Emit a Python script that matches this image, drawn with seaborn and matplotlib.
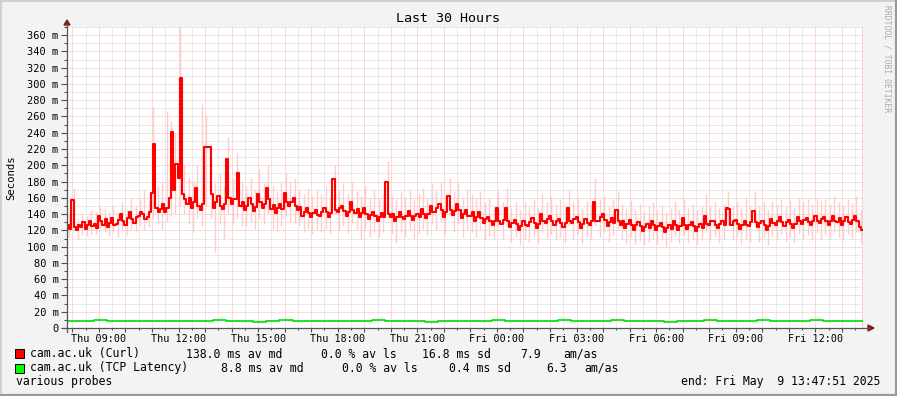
import numpy as np
import pandas as pd
import seaborn as sns
import matplotlib
matplotlib.use('Agg')
import matplotlib.pyplot as plt
from matplotlib.lines import Line2D
from matplotlib.patches import Polygon, Rectangle

# Curl median (ms), one value per 5 minutes, starting Thu 07:47:51
curl_median = [126, 122, 157, 124, 121, 127, 124, 130, 122, 127,
               131, 125, 128, 123, 138, 131, 127, 134, 124, 129,
               135, 126, 128, 133, 140, 131, 126, 135, 142, 134,
               129, 137, 138, 143, 140, 134, 137, 142, 166, 226,
               148, 143, 146, 152, 143, 148, 160, 241, 170, 201,
               185, 307, 165, 158, 152, 160, 148, 155, 172, 150,
               145, 152, 222, 222, 222, 165, 148, 155, 162, 150,
               146, 152, 208, 160, 152, 158, 158, 190, 150, 155,
               145, 150, 160, 152, 144, 149, 165, 155, 148, 153,
               172, 158, 146, 151, 141, 147, 152, 146, 166, 155,
               150, 155, 160, 150, 145, 149, 138, 143, 147, 141,
               136, 141, 145, 139, 138, 143, 148, 142, 137, 141,
               183, 145, 142, 147, 150, 144, 138, 143, 155, 145,
               141, 146, 136, 141, 147, 140, 134, 139, 143, 138,
               132, 137, 141, 136, 180, 140, 136, 140, 132, 137,
               142, 136, 134, 138, 144, 138, 133, 138, 140, 136,
               146, 140, 135, 140, 150, 142, 142, 147, 153, 145,
               137, 142, 162, 145, 139, 144, 152, 145, 135, 140,
               145, 138, 138, 142, 132, 137, 142, 135, 129, 134,
               136, 131, 126, 131, 147, 132, 128, 133, 148, 132,
               124, 129, 133, 128, 120, 125, 132, 127, 125, 130,
               135, 129, 123, 128, 140, 131, 129, 134, 138, 131,
               127, 132, 134, 129, 124, 129, 148, 132, 129, 134,
               136, 130, 123, 128, 134, 129, 126, 131, 155, 132,
               131, 136, 140, 133, 125, 130, 135, 129, 145, 131,
               126, 131, 123, 128, 133, 127, 121, 126, 130, 125,
               119, 124, 128, 123, 131, 126, 120, 125, 129, 124,
               118, 123, 127, 122, 132, 126, 120, 125, 135, 127,
               122, 127, 130, 125, 119, 124, 128, 123, 138, 128,
               126, 131, 132, 127, 123, 128, 131, 126, 147, 146,
               126, 131, 133, 128, 122, 127, 131, 126, 125, 130,
               144, 130, 124, 129, 132, 127, 120, 125, 134, 129,
               126, 131, 136, 130, 125, 130, 133, 128, 123, 128,
               137, 131, 128, 133, 135, 130, 126, 131, 138, 132,
               129, 134, 136, 131, 127, 132, 138, 132, 130, 135,
               126, 131, 136, 130, 128, 133, 138, 132, 124, 121]

# smoke (spread of the pings), one value per 10 minutes
curl_high = [140, 172, 135, 140, 138, 145, 142, 150, 146, 142,
             150, 140, 155, 145, 160, 150, 158, 170, 156, 272,
             175, 180, 267, 255, 240, 372, 200, 185, 180, 200,
             275, 260, 210, 178, 190, 175, 235, 185, 215, 180,
             175, 185, 170, 195, 178, 200, 175, 168, 180, 192,
             180, 185, 170, 165, 172, 162, 170, 165, 175, 160,
             200, 170, 178, 165, 180, 168, 162, 175, 160, 170,
             158, 165, 205, 162, 158, 168, 160, 170, 158, 165,
             172, 160, 178, 170, 180, 162, 185, 168, 178, 160,
             170, 165, 158, 168, 155, 160, 150, 170, 155, 172,
             148, 155, 145, 155, 150, 158, 148, 165, 155, 162,
             152, 158, 150, 170, 155, 160, 148, 156, 152, 185,
             158, 162, 150, 158, 168, 152, 148, 156, 146, 152,
             144, 150, 155, 145, 150, 142, 148, 156, 146, 158,
             148, 152, 145, 150, 165, 150, 155, 148, 152, 168,
             150, 155, 148, 160, 150, 168, 150, 155, 145, 156,
             152, 158, 150, 156, 148, 160, 155, 158, 152, 160,
             156, 158, 152, 162, 155, 150, 158, 154, 162, 145]

curl_low = [112, 120, 110, 114, 113, 116, 115, 122, 118, 113,
            118, 112, 120, 114, 122, 118, 125, 120, 124, 135,
            128, 122, 130, 138, 140, 150, 140, 128, 118, 135,
            125, 150, 135, 93, 128, 110, 140, 128, 135, 125,
            125, 130, 122, 135, 128, 140, 122, 118, 125, 138,
            130, 128, 125, 118, 122, 115, 120, 118, 122, 116,
            140, 120, 125, 117, 130, 120, 110, 122, 112, 118,
            112, 118, 135, 115, 105, 118, 112, 120, 110, 116,
            122, 114, 128, 120, 130, 115, 138, 118, 128, 112,
            120, 118, 112, 120, 110, 113, 108, 125, 110, 125,
            106, 112, 102, 110, 106, 112, 104, 118, 110, 116,
            108, 112, 106, 126, 110, 115, 105, 112, 108, 125,
            112, 118, 106, 114, 122, 108, 105, 112, 103, 108,
            102, 106, 110, 103, 108, 100, 106, 112, 104, 114,
            105, 110, 102, 108, 118, 108, 112, 105, 110, 126,
            108, 112, 104, 110, 106, 124, 106, 112, 102, 112,
            108, 115, 107, 112, 105, 116, 110, 114, 108, 117,
            110, 115, 109, 118, 112, 108, 115, 110, 118, 104]

# TCP latency median (ms), one value per 30 minutes
tcp_median = [8.8, 8.8, 9.6, 8.8, 8.8, 8.8, 8.9, 8.8, 8.8, 8.7,
              8.8, 9.5, 8.8, 8.8, 7.6, 8.8, 9.4, 8.8, 8.8, 8.8,
              8.8, 8.9, 8.8, 9.6, 8.8, 8.8, 8.8, 7.9, 8.8, 8.8,
              8.8, 8.8, 9.5, 8.8, 8.8, 8.8, 8.8, 9.6, 8.8, 8.8,
              8.8, 9.5, 8.8, 8.8, 8.8, 7.7, 8.8, 8.8, 9.5, 8.8,
              8.8, 8.8, 9.4, 8.8, 8.8, 8.8, 9.6, 8.8, 8.8, 8.8]

x_tick_hours = [9, 12, 15, 18, 21, 24, 27, 30, 33, 36]
x_tick_labels = ['Thu 09:00', 'Thu 12:00', 'Thu 15:00', 'Thu 18:00', 'Thu 21:00',
                 'Fri 00:00', 'Fri 03:00', 'Fri 06:00', 'Fri 09:00', 'Fri 12:00']

legend_curl = ['cam.ac.uk (Curl)', '138.0 ms av md', '0.0 % av ls', '16.8 ms sd', '7.9', 'am/as']
legend_tcp = ['cam.ac.uk (TCP Latency)', '8.8 ms av md', '0.0 % av ls', '0.4 ms sd', '6.3', 'am/as']

W, H = 897, 396
def fx(px):
    return px / W
def fy(py):
    return 1 - py / H

start = 7 + 47 / 60 + 51 / 3600   # hours since Thu 00:00
end = start + 30

mono = 'DejaVu Sans Mono'
plt.rcParams['font.family'] = mono

fig = plt.figure(figsize=(W / 100, H / 100), dpi=100, facecolor='#f3f3f3')
ax = fig.add_axes([fx(67), fy(328), (863 - 67) / W, (328 - 27) / H])
ax.set_facecolor('white')
ax.set_xlim(start, end)
ax.set_ylim(0, 370)

# grid
ax.set_yticks(np.arange(0, 361, 20))
ax.set_yticks(np.arange(10, 371, 20), minor=True)
ax.set_yticklabels(['0' if v == 0 else f'{v} m' for v in range(0, 361, 20)])
hours = np.arange(8, 38)
ax.set_xticks(hours)
ax.set_xticklabels([x_tick_labels[x_tick_hours.index(h)] if h in x_tick_hours else '' for h in hours])
ax.set_xticks(np.arange(8.5, 38, 1.0), minor=True)
ax.grid(which='major', color='#f3b6b6', ls=(0, (1, 1)), lw=0.72)
ax.grid(which='minor', color='#d6d6d6', ls=(0, (1, 1)), lw=0.72)
ax.set_axisbelow(True)
for s in ax.spines.values():
    s.set_visible(False)
ax.tick_params(axis='both', which='major', color='#505050', width=0.8, labelsize=7.5)
ax.tick_params(axis='y', which='major', length=4, pad=2)
ax.tick_params(axis='y', which='minor', length=2, color='#505050', width=0.8)
ax.tick_params(axis='x', which='major', length=3, pad=1.5, labelsize=7.3)
ax.tick_params(axis='x', which='minor', length=1.5, color='#505050', width=0.8)

# smoke
ts = start + np.arange(len(curl_high)) / 6
ax.vlines(ts + 1 / 12, curl_low, curl_high, colors='#ffcccc', lw=1.0, zorder=1.5)
ax.axvline(end - 0.01, color='#ffc4c4', lw=1.2, zorder=1.5)

# medians
t = start + np.arange(len(curl_median)) / 12
curl_df = pd.DataFrame({'t': list(t) + [end], 'ms': curl_median + [curl_median[-1]]})
sns.lineplot(data=curl_df, x='t', y='ms', drawstyle='steps-post', color='#ff0000',
             lw=1.5, estimator=None, legend=False, ax=ax, zorder=3)
tg = start + np.arange(len(tcp_median)) / 2
tcp_df = pd.DataFrame({'t': list(tg) + [end], 'ms': tcp_median + [tcp_median[-1]]})
sns.lineplot(data=tcp_df, x='t', y='ms', drawstyle='steps-post', color='#00dd00',
             lw=1.2, estimator=None, legend=False, ax=ax, zorder=3)
ax.set_xlabel('')
ax.set_ylabel('')

# axes with arrows
fig.add_artist(Line2D([fx(67), fx(67)], [fy(332), fy(24)], color='#555555', lw=0.9))
fig.add_artist(Line2D([fx(63), fx(869)], [fy(328), fy(328)], color='#555555', lw=0.9))
fig.add_artist(Polygon([[fx(64), fy(25)], [fx(70), fy(25)], [fx(67), fy(20)]],
                       closed=True, color='#7f2020', transform=fig.transFigure))
fig.add_artist(Polygon([[fx(868), fy(325)], [fx(868), fy(331)], [fx(874), fy(328)]],
                       closed=True, color='#7f2020', transform=fig.transFigure))

# frame of the image
fig.add_artist(Line2D([0, 1], [fy(0.8), fy(0.8)], color='#d0d0d0', lw=1.4))
fig.add_artist(Line2D([fx(0.8), fx(0.8)], [0, 1], color='#d0d0d0', lw=1.4))
fig.add_artist(Line2D([0, 1], [fy(395), fy(395)], color='#9a9a9a', lw=1.6))
fig.add_artist(Line2D([fx(896), fx(896)], [0, 1], color='#9a9a9a', lw=1.6))

# texts
fig.text(fx(448), fy(19), 'Last 30 Hours', ha='center', va='center', fontsize=9.6)
fig.text(fx(11), fy(178), 'Seconds', ha='center', va='center', rotation=90, fontsize=7.7)
fig.text(fx(887), fy(5), 'RRDTOOL / TOBI OETIKER', ha='center', va='top', rotation=270,
         fontsize=5.8, color='#aaaaaa')

legend_x_curl = [30, 186, 321, 421.7, 520.7, 563]
legend_x_tcp = [30, 221, 342, 449, 546.7, 584]
for txt, x in zip(legend_curl, legend_x_curl):
    fig.text(fx(x), fy(354), txt, ha='left', va='center', fontsize=8.3)
for txt, x in zip(legend_tcp, legend_x_tcp):
    fig.text(fx(x), fy(368), txt, ha='left', va='center', fontsize=8.3)
fig.add_artist(Rectangle((fx(15), fy(358)), 9 / W, 9 / H, facecolor='#ff0000',
                         edgecolor='black', lw=0.7, transform=fig.transFigure))
fig.add_artist(Rectangle((fx(15), fy(373)), 9 / W, 9 / H, facecolor='#00ff00',
                         edgecolor='black', lw=0.7, transform=fig.transFigure))
fig.text(fx(16), fy(382), 'various probes', ha='left', va='center', fontsize=8.3)
fig.text(fx(880), fy(382), 'end: Fri May  9 13:47:51 2025', ha='right', va='center', fontsize=8.3)

fig.savefig('out.png', dpi=100, facecolor=fig.get_facecolor())
